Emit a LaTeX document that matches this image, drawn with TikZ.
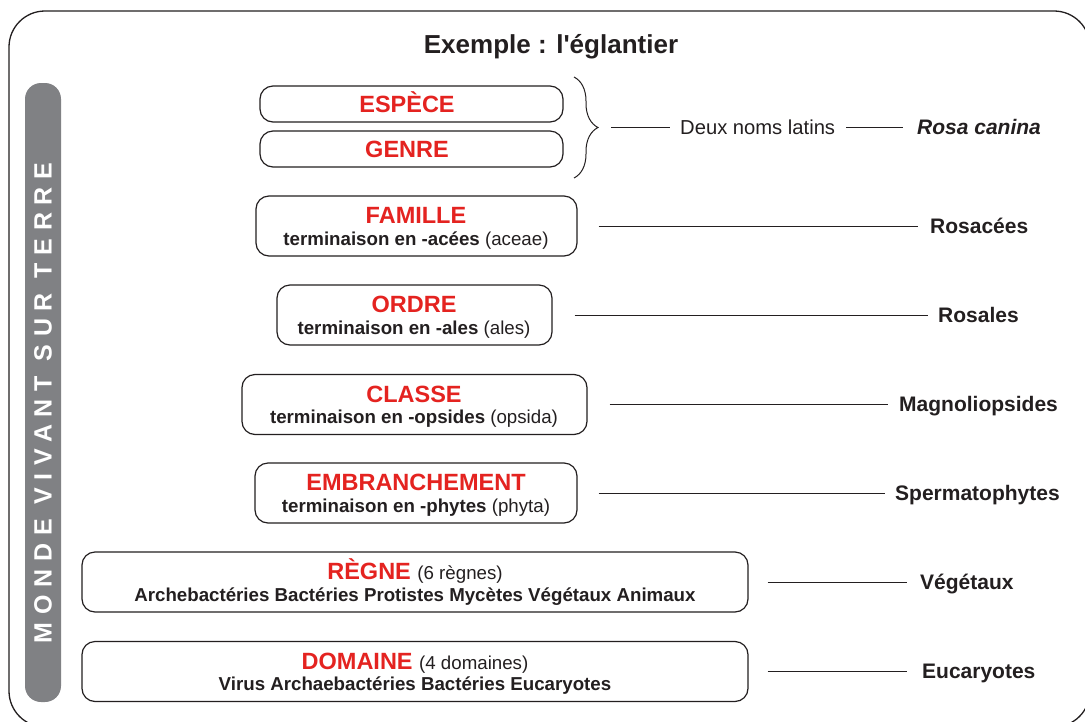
\documentclass[tikz,border=0pt]{standalone}
\usepackage{fontspec}
\setmainfont{Liberation Sans}
\newfontfamily\spacedfont[LetterSpace=31]{Liberation Sans}
\newfontfamily\titlefont[Ligatures=TeXOff]{Liberation Sans}
\usetikzlibrary{decorations.pathreplacing,calc}
\definecolor{tred}{HTML}{E42320}
\definecolor{tgray}{HTML}{808184}
\definecolor{tink}{HTML}{231F20}
\newcommand\redfont{\fontsize{23.5}{26}\selectfont\bfseries\color{tred}}
\newcommand\subfont{\fontsize{18.7}{22}\selectfont\bfseries\color{tink}}
\begin{document}
\begin{tikzpicture}[x=1pt,y=-1pt,
  rankbox/.style={draw=tink, line width=1.2pt, rounded corners=13pt, inner sep=0pt, minimum height=60pt},
  smallbox/.style={draw=tink, line width=1.2pt, rounded corners=13pt, inner sep=0pt, minimum height=36pt, minimum width=303pt},
  redtxt/.style={anchor=base, inner sep=0pt, font=\redfont},
  subtxt/.style={anchor=base, inner sep=0pt, font=\subfont},
  lbl/.style={anchor=base west, inner sep=0pt, font=\fontsize{21}{24}\selectfont\bfseries, text=tink},
  link/.style={draw=tink, line width=1pt}]
\useasboundingbox (0,0) rectangle (1085,721);
\fill[white] (0,0) rectangle (1085,721);
% frame
\draw[tink, line width=1.3pt, rounded corners=36pt] (9,11) rectangle (1090,727);
% side bar
\node[fill=tgray, rounded corners=16pt, minimum width=36pt, minimum height=619pt, inner sep=0pt] (bar) at (43,392.5) {};
\node[rotate=90, text=white, inner sep=0pt, font=\spacedfont\fontsize{25}{28}\selectfont\bfseries] (side) at (43,403) {MONDE VIVANT SUR TERRE};
% title
\node[inner sep=0pt, font=\titlefont\fontsize{26}{30}\selectfont\bfseries, text=tink] (title) at (551,47) {Exemple : l'églantier};
% boxes
\node[smallbox] (esp) at (411.5,104) {};
\node[redtxt] (espT) at (407,112.3) {ESPÈCE};
\node[smallbox] (gen) at (411.5,149) {};
\node[redtxt] (genT) at (407,157.3) {GENRE};

\node[rankbox, minimum width=321pt] (fam) at (416.5,226) {};
\node[redtxt] (famT) at (416,223) {FAMILLE};
\node[subtxt] (famS) at (416,245) {terminaison en -acées \mdseries(aceae)};

\node[rankbox, minimum width=275pt] (ord) at (414.5,315) {};
\node[redtxt] (ordT) at (414,312.5) {ORDRE};
\node[subtxt] (ordS) at (414,334) {terminaison en -ales \mdseries(ales)};

\node[rankbox, minimum width=345pt] (cla) at (414.5,404.5) {};
\node[redtxt] (claT) at (414,402) {CLASSE};
\node[subtxt] (claS) at (414,423.5) {terminaison en -opsides \mdseries(opsida)};

\node[rankbox, minimum width=322pt] (emb) at (416,493) {};
\node[redtxt] (embT) at (416,490.5) {EMBRANCHEMENT};
\node[subtxt] (embS) at (416,512) {terminaison en -phytes \mdseries(phyta)};

\node[rankbox, minimum width=666pt] (reg) at (415,582) {};
\node[redtxt] (regT) at (415,579.5) {RÈGNE {\subfont\mdseries(6 règnes)}};
\node[subtxt] (regS) at (415,601) {Archebactéries Bactéries Protistes Mycètes Végétaux Animaux};

\node[rankbox, minimum width=666pt] (dom) at (415,671.5) {};
\node[redtxt] (domT) at (415,669) {DOMAINE {\subfont\mdseries(4 domaines)}};
\node[subtxt] (domS) at (415,690.5) {Virus Archaebactéries Bactéries Eucaryotes};

% brace and latin names
\draw[tink, line width=1pt, decorate, decoration={brace, amplitude=24pt}] (574,77) -- (574,178);
\coordinate (btip) at (598,127);
\node[anchor=base west, inner sep=0pt, font=\fontsize{20.2}{24}\selectfont, text=tink] (deux) at (680,134.3) {Deux noms latins};
\node[lbl, font=\fontsize{21}{24}\selectfont\bfseries\itshape] (rosa) at (917,134.3) {Rosa canina};
\draw[link] ($(btip)+(13,0)$) -- ($(btip -| deux.west)+(-10,0)$);
\draw[link] ($(btip -| deux.east)+(11,0)$) -- ($(btip -| rosa.west)+(-14,0)$);

% right labels
\node[lbl] (l1) at (930,233.3) {Rosacées};
\node[lbl] (l2) at (938,322.3) {Rosales};
\node[lbl] (l3) at (899,411.8) {Magnoliopsides};
\node[lbl] (l4) at (895,500.3) {Spermatophytes};
\node[lbl] (l5) at (920,589.3) {Végétaux};
\node[lbl] (l6) at (922,678.3) {Eucaryotes};

\draw[link] ($(fam.east)+(21,0)$) -- ($(fam.east -| l1.west)+(-12,0)$);
\draw[link] ($(ord.east)+(22,0)$) -- ($(ord.east -| l2.west)+(-10,0)$);
\draw[link] ($(cla.east)+(22,0)$) -- ($(cla.east -| l3.west)+(-11,0)$);
\draw[link] ($(emb.east)+(21,0)$) -- ($(emb.east -| l4.west)+(-10,0)$);
\draw[link] ($(reg.east)+(19,0)$) -- ($(reg.east -| l5.west)+(-13,0)$);
\draw[link] ($(dom.east)+(19,0)$) -- ($(dom.east -| l6.west)+(-15,0)$);
\end{tikzpicture}
\end{document}
